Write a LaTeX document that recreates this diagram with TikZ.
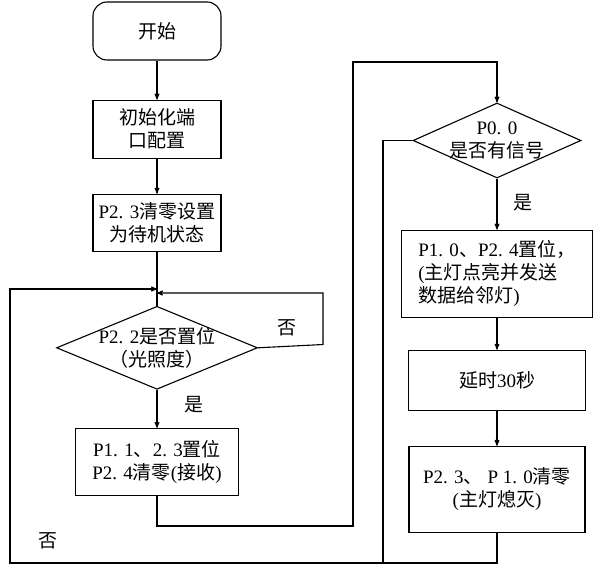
\documentclass[tikz,border=0pt]{standalone}
\usepackage{fontspec}
\setmainfont{Liberation Serif}
\newfontfamily\cjk{Noto Sans CJK SC}
\newcommand{\zh}[1]{{\cjk #1}}
\usetikzlibrary{arrows,shapes.geometric,positioning}

\begin{document}
\begin{tikzpicture}[x=1pt, y=-1pt, >=stealth', line width=1.1pt, auto,
    every node/.style={font=\fontsize{19}{23}\selectfont},
    box/.style={draw, rectangle, inner sep=0pt, align=center},
    term/.style={box, rounded corners=14pt},
    decision/.style={draw, diamond, inner sep=-3pt, aspect=2.4, align=center}]
    \useasboundingbox (0,0) rectangle (600,573);

    % Nodes, left column
    \node [term, minimum width=128pt, minimum height=58pt]  (start) at (157,31)      {\zh{开始}};
    \node [box, minimum width=128pt, minimum height=58pt]   (init)  [below=39pt of start] {\zh{初始化端}\\\zh{口配置}};
    \node [box, minimum width=128pt, minimum height=57pt]   (clr)   [below=35pt of init]  {P2. 3\zh{清零设置}\\\zh{为待机状态}};
    \node [decision, minimum width=201pt, minimum height=83pt] (chk) [below=54pt of clr]  {P2. 2\zh{是否置位}\\\zh{（光照度）}};
    \node [box, minimum width=163pt, minimum height=67pt]   (rcv)   [below=38pt of chk]   {P1. 1\zh{、}2. 3\zh{置位}\\P2. 4\zh{清零}(\zh{接收})};

    % Nodes, right column
    \node [decision, minimum width=168pt, minimum height=75pt] (sig) at (497,140.5)      {P0. 0\\\zh{是否有信号}};
    \node [box, align=left, minimum width=191pt, minimum height=87pt] (rset) [below=51pt of sig] {P1. 0\zh{、}P2. 4\zh{置位，}\\(\zh{主灯点亮并发送}\\\zh{数据给邻灯})};
    \node [box, minimum width=177pt, minimum height=60pt]   (delay) [below=32pt of rset]  {\zh{延时}30\zh{秒}};
    \node [box, minimum width=176pt, minimum height=86pt]   (off)   [below=35pt of delay] {P2. 3\zh{、} P 1. 0\zh{清零}\\(\zh{主灯熄灭})};

    % Corners of the loops
    \coordinate (m1) at (157,289);
    \coordinate (m2) at (157,293);
    \coordinate (c1) at (353,526);
    \coordinate (c2) at (353,62);
    \coordinate (c3) at (383,563);
    \coordinate (c4) at (10,563);

    % Labels
    \node (no1)  at (287,328) {\zh{否}};
    \node (yes1) at (194,405) {\zh{是}};
    \node (yes2) at (523,203) {\zh{是}};
    \node (no2)  at (48,541)  {\zh{否}};

    % Paths
    \path [->] (start) edge (init);
    \path [->] (init)  edge (clr);
    \path      (clr)   edge (chk);
    \path [->] (chk)   edge (rcv);
    \path [->] (sig)   edge (rset);
    \path [->] (rset)  edge (delay);
    \path [->] (delay) edge (off);
    \draw [->] (chk.east) -- (323,344.5) |- (m2);
    \draw [->] (rcv.south) |- (c1) -- (c2) -| (sig.north);
    \draw      (off.south) |- (c3);
    \draw [->] (sig.west) -| (c3) -- (c4) |- (m1);

\end{tikzpicture}
\end{document}
